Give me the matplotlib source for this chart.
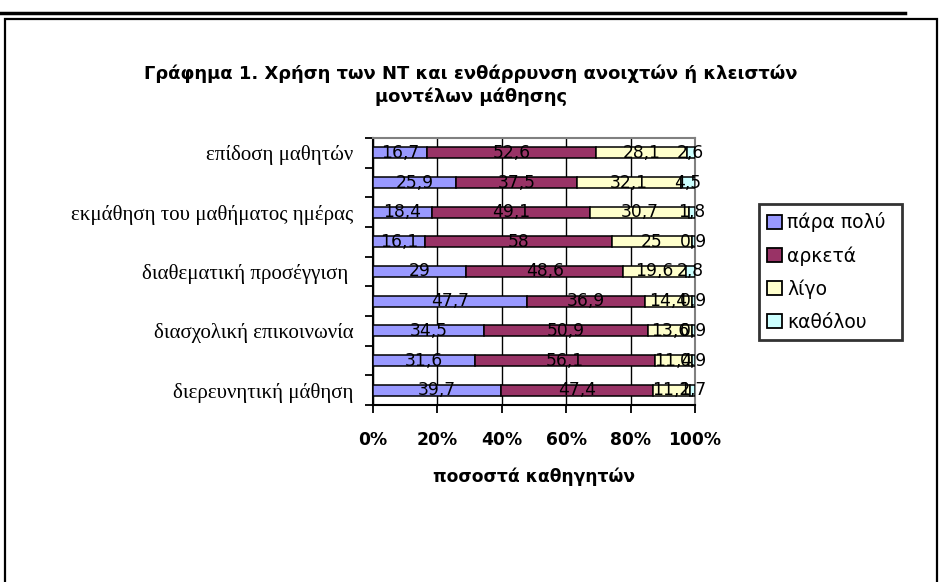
import matplotlib
matplotlib.use('Agg')
import matplotlib.pyplot as plt
from matplotlib.patches import Rectangle, Patch
from matplotlib.lines import Line2D
import numpy as np

# categories, top to bottom; only every other bar has a label in the original
categories = ['επίδοση μαθητών', '', 'εκμάθηση του μαθήματος ημέρας', '',
              'διαθεματική προσέγγιση ', '', 'διασχολική επικοινωνία', '',
              'διερευνητική μάθηση']
para_poly = [16.7, 25.9, 18.4, 16.1, 29, 47.7, 34.5, 31.6, 39.7]
arketa = [52.6, 37.5, 49.1, 58, 48.6, 36.9, 50.9, 56.1, 47.4]
ligo = [28.1, 32.1, 30.7, 25, 19.6, 14.4, 13.6, 11.4, 11.2]
katholou = [2.6, 4.5, 1.8, 0.9, 2.8, 0.9, 0.9, 0.9, 1.7]

series_names = ['πάρα πολύ', 'αρκετά', 'λίγο', 'καθόλου']
series_colors = ['#9999FF', '#993366', '#FFFFCC', '#CCFFFF']
x_ticks = [0, 20, 40, 60, 80, 100]
x_ticklabels = ['0%', '20%', '40%', '60%', '80%', '100%']

W, H = 942, 582
fig = plt.figure(figsize=(W / 100, H / 100), dpi=100)


def fx(px):
    return px / W


def fy(py):
    return 1 - py / H


# plot area in pixels
L, R, T, B = 373, 695, 138, 405
ax = fig.add_axes([fx(L), fy(B), fx(R) - fx(L), fy(T) - fy(B)])

y = np.arange(len(categories))
left = np.zeros(len(categories))
for vals, name, col in zip([para_poly, arketa, ligo, katholou], series_names, series_colors):
    vals = np.array(vals, dtype=float)
    ax.barh(y, vals, left=left, height=0.38, color=col, edgecolor='black',
            linewidth=1.1, zorder=3, label=name)
    for yi, v, l0 in zip(y, vals, left):
        ax.text(l0 + v / 2, yi, '{:g}'.format(v).replace('.', ','),
                ha='center', va='center', fontsize=12.3, color='black',
                family='DejaVu Sans', zorder=4)
    left = left + vals

ax.set_xlim(0, 100)
ax.set_ylim(len(categories) - 0.5, -0.5)

ax.set_xticks(x_ticks)
ax.set_xticklabels(x_ticklabels, fontsize=12.3, fontweight='bold', family='DejaVu Sans')
ax.tick_params(axis='x', direction='out', length=6, width=1.3, pad=13, color='black')
ax.xaxis.grid(True, color='black', linewidth=1.0, zorder=1)

ax.set_yticks(y[::2])
ax.set_yticklabels(categories[::2], fontsize=15, family='Liberation Serif')
ax.tick_params(axis='y', length=0, pad=14)
ax.set_yticks(np.arange(-0.5, len(categories) + 0.5, 1), minor=True)
ax.tick_params(axis='y', which='minor', direction='out', length=6, width=1.3, color='black')

ax.set_xlabel('ποσοστά καθηγητών', fontsize=12.3, fontweight='bold',
              family='DejaVu Sans', labelpad=13)

for side in ['left', 'bottom']:
    ax.spines[side].set_color('black')
    ax.spines[side].set_linewidth(1.5)
for side in ['top', 'right']:
    ax.spines[side].set_color('#808080')
    ax.spines[side].set_linewidth(1.5)

# title of the chart area
fig.text(fx(471), fy(85), 'Γράφημα 1. Χρήση των ΝΤ και ενθάρρυνση ανοιχτών ή κλειστών\nμοντέλων μάθησης',
         ha='center', va='center', fontsize=12.9, fontweight='bold',
         family='DejaVu Sans', linespacing=1.3)

# legend box at the right of the plot
handles = [Patch(facecolor=c, edgecolor='black', linewidth=1.3) for c in series_colors]
leg = fig.legend(handles, series_names, loc='upper left',
                 bbox_to_anchor=(fx(759), fy(340), fx(902) - fx(759), fy(204) - fy(340)),
                 mode='expand', frameon=True, fancybox=False,
                 edgecolor='black', handlelength=0.75, handleheight=0.75,
                 handletextpad=0.3, labelspacing=0.73, borderpad=0.45,
                 borderaxespad=0, prop={'family': 'DejaVu Sans', 'size': 13.5})
leg.get_frame().set_linewidth(2)

# outer frame and the rule above it
fig.add_artist(Rectangle((fx(5), fy(600)), fx(937) - fx(5), fy(19) - fy(600),
                         transform=fig.transFigure, fill=False,
                         edgecolor='black', linewidth=1.6))
fig.add_artist(Line2D([0, fx(905)], [fy(13), fy(13)], transform=fig.transFigure,
                      color='black', linewidth=2.5))

plt.savefig('out.png', dpi=100)
plt.close()
